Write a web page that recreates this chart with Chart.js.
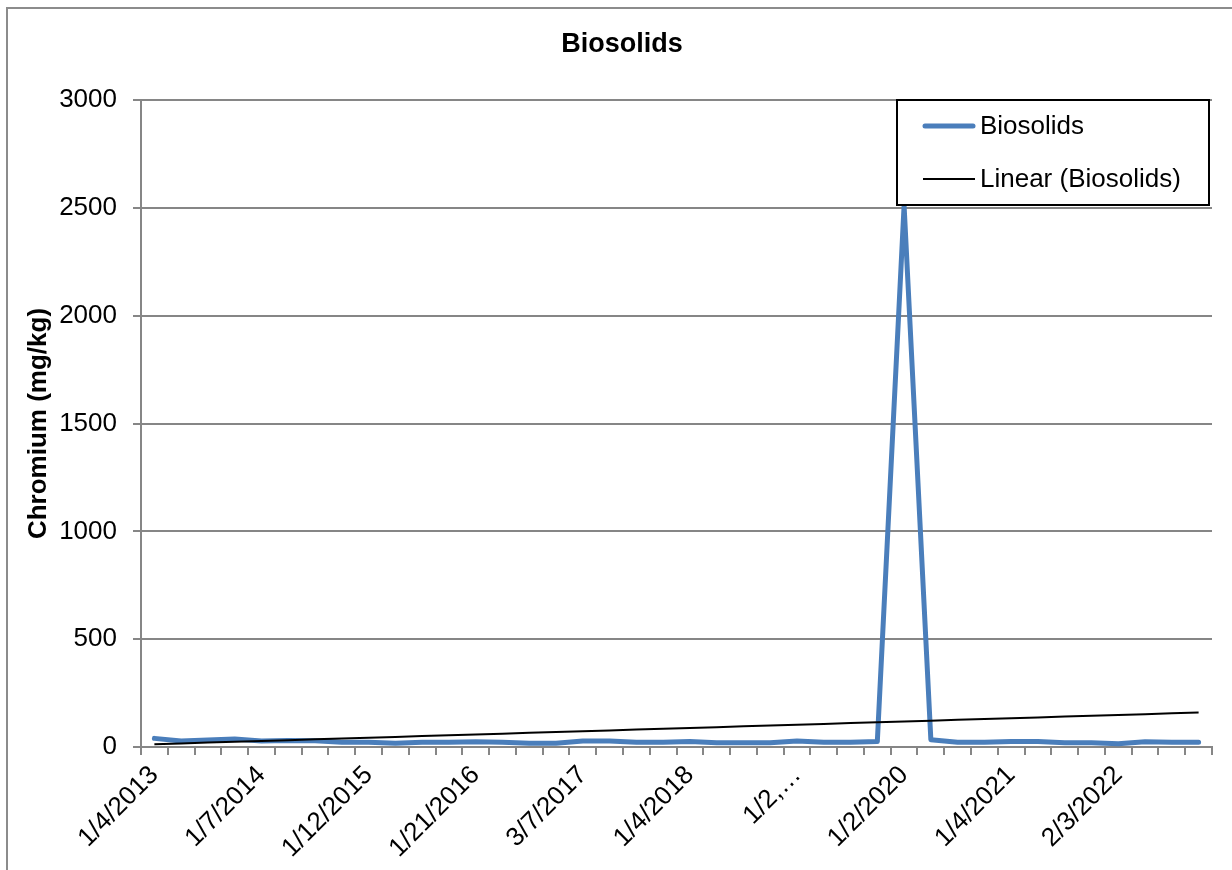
<!DOCTYPE html>
<html>
<head>
<meta charset="utf-8">
<title>Biosolids</title>
<script src="https://cdn.jsdelivr.net/npm/chart.js@4.4.1/dist/chart.umd.min.js"></script>
<style>
  html, body { margin: 0; padding: 0; background: #fff; overflow: hidden; }
  #frame {
    position: absolute; left: 6px; top: 7px; width: 1300px; height: 900px;
    border: 2px solid #8c8c8c;
  }
  #chart { position: absolute; left: 0; top: 0; }
</style>
</head>
<body>
<div id="frame"></div>
<canvas id="chart" width="1232" height="870"></canvas>
<script>
// quarterly sample dates (only every 4th is shown on the axis)
const sampleDates = [
  "1/4/2013", "4/2/2013", "7/8/2013", "10/1/2013",
  "1/7/2014", "4/1/2014", "7/7/2014", "10/6/2014",
  "1/12/2015", "4/6/2015", "7/6/2015", "10/5/2015",
  "1/21/2016", "4/4/2016", "7/5/2016", "10/3/2016",
  "3/7/2017", "4/3/2017", "7/3/2017", "10/2/2017",
  "1/4/2018", "4/2/2018", "7/2/2018", "10/1/2018",
  "1/2,…", "4/1/2019", "7/1/2019", "10/1/2019",
  "1/2/2020", "4/6/2020", "7/6/2020", "10/5/2020",
  "1/4/2021", "4/5/2021", "7/6/2021", "10/4/2021",
  "2/3/2022", "4/4/2022", "7/5/2022", "10/3/2022",
];

// chromium, mg/kg
const chromium = [
  40, 28, 32, 37, 28, 30, 29, 22, 22, 17,
  22, 22, 24, 22, 17, 17, 28, 28, 22, 22,
  25, 20, 20, 20, 28, 22, 22, 25, 2510, 34,
  22, 22, 25, 25, 20, 20, 15, 24, 22, 22,
];

const yTicks = [0, 500, 1000, 1500, 2000, 2500, 3000];

// least squares trend, like Excel's "Linear" trendline
const linearFit = (values) => {
  const n = values.length;
  const mx = (n - 1) / 2;
  const my = values.reduce((a, b) => a + b, 0) / n;
  let sxy = 0;
  let sxx = 0;
  values.forEach((v, i) => {
    sxy += (i - mx) * (v - my);
    sxx += (i - mx) * (i - mx);
  });
  const slope = sxy / sxx;
  return values.map((v, i) => my + slope * (i - mx));
};
const trend = linearFit(chromium);

const FONT = "'Liberation Sans', Arial, sans-serif";
const GRID = "#868686";

// chart title, centred like Excel (not over the canvas centre)
const excelTitle = {
  id: "excelTitle",
  afterDraw(chart) {
    const ctx = chart.ctx;
    ctx.save();
    ctx.font = "bold 27px " + FONT;
    ctx.fillStyle = "#000";
    ctx.textAlign = "center";
    ctx.textBaseline = "middle";
    ctx.fillText("Biosolids", 622, 45);
    ctx.restore();
  },
};

// legend box inside the plot, drawn over the lines like Excel does
const boxLegend = {
  id: "boxLegend",
  afterDraw(chart) {
    const ctx = chart.ctx;
    const x0 = 897, y0 = 100, x1 = 1209, y1 = 205;
    ctx.save();
    ctx.fillStyle = "#fff";
    ctx.fillRect(x0, y0, x1 - x0, y1 - y0);
    ctx.strokeStyle = "#000";
    ctx.lineWidth = 2;
    ctx.strokeRect(x0, y0, x1 - x0, y1 - y0);

    ctx.font = "26px " + FONT;
    ctx.textBaseline = "middle";
    ctx.fillStyle = "#000";
    const rows = [126, 179];
    chart.data.datasets.forEach((ds, i) => {
      const y = rows[i];
      ctx.beginPath();
      ctx.strokeStyle = ds.borderColor;
      ctx.lineWidth = ds.borderWidth;
      ctx.lineCap = i === 0 ? "round" : "butt";
      ctx.moveTo(i === 0 ? 925 : 923, y);
      ctx.lineTo(i === 0 ? 973 : 975, y);
      ctx.stroke();
      ctx.fillText(ds.label, 980, y + 1);
    });
    ctx.restore();
  },
};

new Chart(document.getElementById("chart"), {
  type: "line",
  data: {
    labels: sampleDates,
    datasets: [
      {
        label: "Biosolids",
        data: chromium,
        borderColor: "#4A7EBB",
        backgroundColor: "#4A7EBB",
        borderWidth: 5,
        borderJoinStyle: "round",
        borderCapStyle: "round",
        pointRadius: 0,
        tension: 0,
        order: 2,
      },
      {
        label: "Linear (Biosolids)",
        data: trend,
        borderColor: "#000000",
        backgroundColor: "#000000",
        borderWidth: 2,
        pointRadius: 0,
        tension: 0,
        order: 1,
      },
    ],
  },
  options: {
    responsive: false,
    animation: false,
    devicePixelRatio: 1,
    layout: { padding: { left: 0, right: 20, top: 100, bottom: 0 } },
    plugins: {
      legend: { display: false },
      tooltip: { enabled: false },
      title: { display: false },
    },
    scales: {
      x: {
        type: "category",
        offset: true,
        grid: {
          offset: true,
          drawOnChartArea: false,
          drawTicks: true,
          tickLength: 8,
          color: GRID,
          lineWidth: 2,
        },
        border: { display: true, color: GRID, width: 2 },
        ticks: {
          autoSkip: false,
          maxRotation: 45,
          minRotation: 45,
          padding: 5,
          color: "#000",
          font: { family: FONT, size: 26 },
          callback: function (value, index) {
            return index % 4 === 0 ? this.getLabelForValue(value) : "";
          },
        },
        afterFit(scale) {
          scale.height = 123;
        },
      },
      y: {
        min: 0,
        max: 3000,
        grid: {
          color: GRID,
          lineWidth: 2,
          tickLength: 8,
        },
        border: { display: true, color: GRID, width: 2 },
        afterBuildTicks(scale) {
          scale.ticks = yTicks.map((v) => ({ value: v }));
        },
        ticks: {
          padding: 16,
          color: "#000",
          font: { family: FONT, size: 26 },
          callback: (value) => String(value),
        },
        title: {
          display: true,
          text: "Chromium (mg/kg)",
          color: "#000",
          font: { family: FONT, size: 26, weight: "bold" },
          padding: { top: 23, bottom: 0 },
        },
        afterFit(scale) {
          scale.width = 141;
        },
      },
    },
  },
  plugins: [boxLegend, excelTitle],
});
</script>
</body>
</html>
